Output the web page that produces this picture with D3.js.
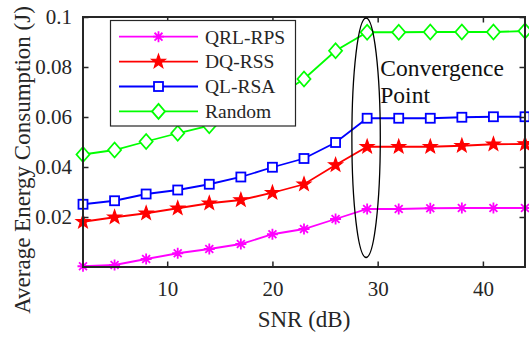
<!DOCTYPE html>
<html>
<head>
<meta charset="utf-8">
<script src="https://cdn.jsdelivr.net/npm/d3@7"></script>
<style>body{margin:0}</style>
</head>
<body>
<svg id="chart" width="529" height="337"></svg>
<script>
// ---- data ----
const snr = [2, 5, 8, 11, 14, 17, 20, 23, 26, 29, 32, 35, 38, 41, 44];
const qrlRps = [0.0003, 0.0008, 0.0032, 0.0055, 0.0072, 0.0092, 0.0131, 0.0152, 0.0192, 0.0232, 0.0232, 0.0235, 0.0236, 0.0236, 0.0236];
const dqRss  = [0.0181, 0.0199, 0.0215, 0.0235, 0.0255, 0.0268, 0.0297, 0.0331, 0.0408, 0.0481, 0.0481, 0.0481, 0.0485, 0.0491, 0.0492];
const qlRsa  = [0.0251, 0.0265, 0.0292, 0.0308, 0.0331, 0.0360, 0.0399, 0.0434, 0.0498, 0.0595, 0.0595, 0.0595, 0.0599, 0.0601, 0.0601];
const random = [0.0450, 0.0468, 0.0502, 0.0535, 0.0565, 0.0620, 0.0670, 0.0752, 0.0865, 0.0939, 0.0939, 0.0940, 0.0940, 0.0940, 0.0944];
const seriesNames = ["QRL-RPS", "DQ-RSS", "QL-RSA", "Random"];
const xTicks = [10, 20, 30, 40];
const yTicks = [0.02, 0.04, 0.06, 0.08, 0.1];
const yTickLabels = ["0.02", "0.04", "0.06", "0.08", "0.1"];
const xLabel = "SNR (dB)";
const yLabel = "Average Energy Consumption (J)";
const annotationText = ["Convergence", "Point"];

// ---- layout ----
const FONT = '"Liberation Serif"';
const svg = d3.select("#chart");
const L = 83, R = 525, T = 17, B = 267;
const x = d3.scaleLinear().domain([2, 44]).range([L, R]);
const y = d3.scaleLinear().domain([0, 0.1]).range([B, T]);
const axisColor = "#262626";

function addText(parent, size, color) {
  return parent.append("text")
    .style("font-family", FONT)
    .style("font-size", size + "px")
    .attr("fill", color || axisColor);
}

const series = [
  { name: seriesNames[0], values: qrlRps, color: "#ff00ff", marker: "asterisk" },
  { name: seriesNames[1], values: dqRss,  color: "#ff0000", marker: "star" },
  { name: seriesNames[2], values: qlRsa,  color: "#0000ff", marker: "square" },
  { name: seriesNames[3], values: random, color: "#00ff00", marker: "diamond" }
];

function drawMarker(g, type, cx, cy, color) {
  if (type === "asterisk") {
    const r = 5.5, d = r * 0.72;
    g.append("path")
      .attr("d", `M${cx - r},${cy}L${cx + r},${cy}M${cx},${cy - r}L${cx},${cy + r}` +
                 `M${cx - d},${cy - d}L${cx + d},${cy + d}M${cx - d},${cy + d}L${cx + d},${cy - d}`)
      .attr("stroke", color).attr("stroke-width", 1.8).attr("fill", "none");
  } else if (type === "star") {
    const ro = 7.2, ri = 2.9;
    const pts = [];
    for (let i = 0; i < 10; i++) {
      const a = -Math.PI / 2 + i * Math.PI / 5;
      const rr = i % 2 === 0 ? ro : ri;
      pts.push([cx + rr * Math.cos(a), cy + rr * Math.sin(a)]);
    }
    g.append("path").attr("d", "M" + pts.map(p => p.join(",")).join("L") + "Z")
      .attr("fill", color).attr("stroke", color).attr("stroke-width", 1.2);
  } else if (type === "square") {
    const h = 4.5;
    g.append("rect").attr("x", cx - h).attr("y", cy - h).attr("width", 2 * h).attr("height", 2 * h)
      .attr("fill", "#fff").attr("stroke", color).attr("stroke-width", 1.8);
  } else if (type === "diamond") {
    const w = 6.5, hh = 7.5;
    g.append("path").attr("d", `M${cx},${cy - hh}L${cx + w},${cy}L${cx},${cy + hh}L${cx - w},${cy}Z`)
      .attr("fill", "#fff").attr("stroke", color).attr("stroke-width", 1.8);
  }
}

// ---- series ----
const line = d3.line().x((d, i) => x(snr[i])).y(d => y(d));
series.forEach(s => {
  svg.append("path").datum(s.values)
    .attr("d", line).attr("fill", "none")
    .attr("stroke", s.color).attr("stroke-width", 1.8);
  const mg = svg.append("g");
  s.values.forEach((v, i) => drawMarker(mg, s.marker, x(snr[i]), y(v), s.color));
});

// ---- axes ----
const tickLen = 5.5;
const xAxisB = d3.axisBottom(x).tickValues(xTicks).tickSize(-tickLen).tickPadding(14).tickFormat(d3.format("d"));
const xAxisT = d3.axisTop(x).tickValues(xTicks).tickSize(-tickLen).tickFormat("");
const yAxisL = d3.axisLeft(y).tickValues(yTicks).tickSize(-tickLen).tickPadding(11)
  .tickFormat((d, i) => yTickLabels[i]);
const yAxisR = d3.axisRight(y).tickValues(yTicks).tickSize(-tickLen).tickFormat("");

function styleAxis(g) {
  g.attr("font-family", null).attr("font-size", null);
  g.select(".domain").remove();
  g.selectAll(".tick line").attr("stroke", axisColor).attr("stroke-width", 1.5);
  g.selectAll(".tick text").style("font-family", FONT).style("font-size", "21px").attr("fill", axisColor);
}
svg.append("g").attr("transform", `translate(0,${B})`).call(xAxisB).call(styleAxis);
svg.append("g").attr("transform", `translate(0,${T})`).call(xAxisT).call(styleAxis);
svg.append("g").attr("transform", `translate(${L},0)`).call(yAxisL).call(styleAxis);
svg.append("g").attr("transform", `translate(${R},0)`).call(yAxisR).call(styleAxis);
svg.append("rect").attr("x", L).attr("y", T).attr("width", R - L).attr("height", B - T)
  .attr("fill", "none").attr("stroke", axisColor).attr("stroke-width", 2);

// ---- axis labels ----
addText(svg, 23).attr("x", (L + R) / 2).attr("y", 327).attr("text-anchor", "middle").text(xLabel);
addText(svg, 23).attr("transform", "translate(30,160) rotate(-90)").attr("text-anchor", "middle").text(yLabel);

// ---- convergence ellipse & annotation ----
svg.append("ellipse")
  .attr("cx", x(28.9)).attr("cy", y(0.0517))
  .attr("rx", x(28.9) - x(27.55)).attr("ry", y(0.0517) - y(0.0996))
  .attr("fill", "none").attr("stroke", "#000").attr("stroke-width", 1.3);
annotationText.forEach((t, i) => {
  addText(svg, 23.5, "#111").attr("x", x(30.25)).attr("y", 76 + i * 27).text(t);
});

// ---- legend ----
const lg = svg.append("g");
lg.append("rect").attr("x", 110.5).attr("y", 20.5).attr("width", 185).attr("height", 105.5)
  .attr("fill", "#fff").attr("stroke", axisColor).attr("stroke-width", 1.2);
series.forEach((s, i) => {
  const ry = 36.7 + i * 24.9;
  lg.append("line").attr("x1", 119).attr("x2", 198).attr("y1", ry).attr("y2", ry)
    .attr("stroke", s.color).attr("stroke-width", 1.8);
  drawMarker(lg, s.marker, 158.5, ry, s.color);
  addText(lg, 19.5).attr("x", 205).attr("y", ry).attr("dy", "0.35em").text(s.name);
});
</script>
</body>
</html>
